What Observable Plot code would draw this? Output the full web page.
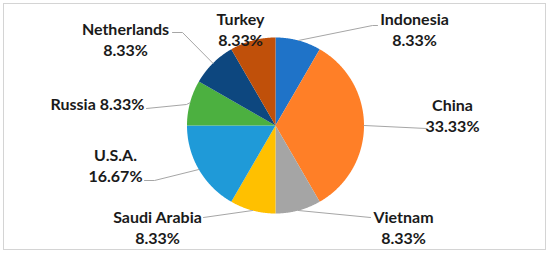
<!DOCTYPE html>
<html><head><meta charset="utf-8">
<script src="https://cdn.jsdelivr.net/npm/d3@7"></script>
<script src="https://cdn.jsdelivr.net/npm/@observablehq/plot@0.6"></script>
<style>body{margin:0;background:#fff;}</style>
</head><body><div id="chart"></div>
<script>
// ---- data ----
const countries = ["Indonesia","China","Vietnam","Saudi Arabia","U.S.A.","Russia","Netherlands","Turkey"];
const shares = [8.33, 33.33, 8.33, 8.33, 16.67, 8.33, 8.33, 8.33];
// ---- styles / layout ----
const sliceColors = ["#1f73c8","#ff7f27","#a5a5a5","#ffc000","#1f9ad8","#4cb040","#0d477f","#c0500a"];
const singleLine = [false,false,false,false,false,true,false,false];
const labelPx = [[414,28],[452,114],[403,226.5],[157,226.5],[115,164.5],[97,103],[125,38],[240,28]];
const leaderPx = [[[372,25],[377,25]],[[426,128]],[[370,217]],[[203,217]],[[154,180],[144,180]],[[186,104],[146,108]],[[182,32],[172,32]],[]];

const W = 550, H = 253, CX = 275, CY = 125, RX = 88.5, RY = 88;
const toX = px => (px - CX) / RX, toY = py => (CY - py) / RY;

const arcs = d3.pie().sort(null).value(d => d)(shares);
const slicePts = [];
arcs.forEach((a, i) => {
  slicePts.push({country: countries[i], x: 0, y: 0});
  const n = Math.max(2, Math.ceil((a.endAngle - a.startAngle) / (Math.PI / 360)));
  for (let k = 0; k <= n; k++) {
    const t = a.startAngle + (a.endAngle - a.startAngle) * k / n;
    slicePts.push({country: countries[i], x: Math.sin(t), y: Math.cos(t)});
  }
});
const leaderPts = [];
arcs.forEach((a, i) => {
  if (!leaderPx[i].length) return;
  const m = (a.startAngle + a.endAngle) / 2;
  leaderPts.push({country: countries[i], x: Math.sin(m), y: Math.cos(m)});
  leaderPx[i].forEach(([px, py]) => leaderPts.push({country: countries[i], x: toX(px), y: toY(py)}));
});
const labels = countries.map((c, i) => ({
  country: c,
  text: singleLine[i] ? `${c} ${shares[i].toFixed(2)}%` : `${c}\n${shares[i].toFixed(2)}%`,
  x: toX(labelPx[i][0]), y: toY(labelPx[i][1])
}));

const chart = Plot.plot({
  width: W, height: H,
  marginLeft: 3, marginTop: 3, marginRight: 5, marginBottom: 4,
  x: {domain: [-1, 1], range: [CX - RX, CX + RX], axis: null},
  y: {domain: [-1, 1], range: [CY + RY, CY - RY], axis: null},
  color: {domain: countries, range: sliceColors},
  style: {fontFamily: "Lato, sans-serif", background: "#fff"},
  marks: [
    Plot.frame({stroke: "#d4d4d4", strokeWidth: 1}),
    Plot.line(slicePts, {x: "x", y: "y", z: "country", fill: "country", stroke: null, curve: "linear-closed"}),
    Plot.line(leaderPts, {x: "x", y: "y", z: "country", stroke: "#a6a6a6", strokeWidth: 1}),
    Plot.text(labels, {x: "x", y: "y", text: "text", fontSize: 16, fontWeight: "bold", fill: "#1a1a1a", lineHeight: 1.32, textAnchor: "middle"})
  ]
});
document.getElementById("chart").append(chart);
</script>
</body></html>
